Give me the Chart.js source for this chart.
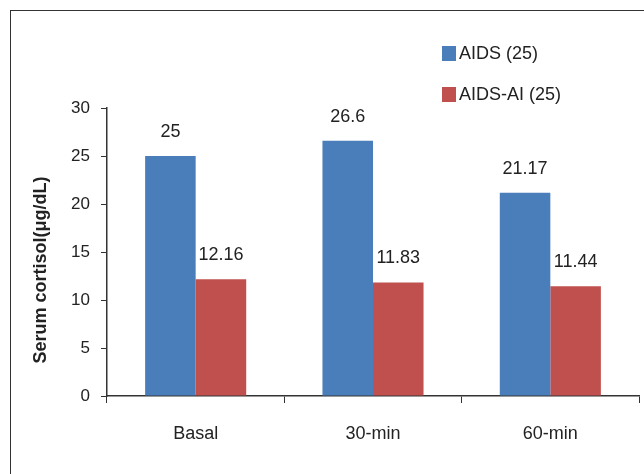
<!DOCTYPE html>
<html lang="en">

<head>
    <meta charset="UTF-8">
    <title>Serum cortisol</title>
    <script src="https://cdn.jsdelivr.net/npm/chart.js"></script>
    <style>
        body {
            margin: 0;
            padding: 0;
            background-color: #fff;
            font-family: "Liberation Sans", Arial, sans-serif;
        }

        .wrap {
            position: relative;
            width: 644px;
            height: 474px;
            overflow: hidden;
        }

        .frame {
            position: absolute;
            left: 10px;
            top: 10px;
            width: 700px;
            height: 500px;
            border-left: 1.5px solid #333;
            border-top: 1.5px solid #333;
        }

        .legend {
            position: absolute;
            left: 442px;
            top: 43px;
            font-size: 18px;
            color: #222;
        }

        .legend div {
            display: flex;
            align-items: center;
            height: 20px;
            margin-bottom: 21px;
        }

        .legend span.box {
            display: inline-block;
            width: 14px;
            height: 15px;
            margin-right: 3px;
        }

        canvas {
            position: absolute;
            left: 0;
            top: 0;
        }
    </style>
</head>

<body>
    <div class="wrap">
        <div class="frame"></div>
        <canvas id="cortisolChart" width="644" height="474"></canvas>
        <div class="legend" id="legend"></div>
    </div>

    <script>
        // chart data
        const categories = ['Basal', '30-min', '60-min'];
        const aidsValues = [25, 26.6, 21.17];
        const aidsAiValues = [12.16, 11.83, 11.44];
        const seriesNames = ['AIDS (25)', 'AIDS-AI (25)'];
        const yTitle = 'Serum cortisol(\u03bcg/dL)';

        const blue = '#4a7ebb';
        const red = '#c0504d';

        // value labels over the bars + rotated axis title
        const barLabels = {
            id: 'barLabels',
            afterDatasetsDraw(chart) {
                const ctx = chart.ctx;
                ctx.save();
                ctx.fillStyle = '#222';
                ctx.font = '18px "Liberation Sans", Arial, sans-serif';
                ctx.textAlign = 'center';
                ctx.textBaseline = 'middle';
                chart.data.datasets.forEach((ds, i) => {
                    chart.getDatasetMeta(i).data.forEach((bar, j) => {
                        ctx.fillText(String(ds.data[j]), bar.x, bar.y - 24);
                    });
                });

                ctx.translate(41, 270);
                ctx.rotate(-Math.PI / 2);
                ctx.font = 'bold 18px "Liberation Sans", Arial, sans-serif';
                ctx.fillText(yTitle, 0, 0);
                ctx.restore();
            }
        };

        var ctx = document.getElementById('cortisolChart').getContext('2d');
        var cortisolChart = new Chart(ctx, {
            type: 'bar',
            data: {
                labels: categories,
                datasets: [{
                    label: seriesNames[0],
                    data: aidsValues,
                    backgroundColor: blue
                }, {
                    label: seriesNames[1],
                    data: aidsAiValues,
                    backgroundColor: red
                }]
            },
            options: {
                responsive: false,
                animation: false,
                layout: {
                    padding: { top: 108, right: 5, left: 0, bottom: 0 }
                },
                datasets: {
                    bar: {
                        categoryPercentage: 0.57,
                        barPercentage: 1.0
                    }
                },
                plugins: {
                    legend: { display: false },
                    tooltip: { enabled: false }
                },
                scales: {
                    x: {
                        grid: {
                            offset: true,
                            drawOnChartArea: false,
                            tickLength: 7,
                            color: '#333'
                        },
                        border: { color: '#333', width: 1.5 },
                        ticks: {
                            color: '#222',
                            padding: 20,
                            font: { size: 18, family: '"Liberation Sans", Arial, sans-serif' }
                        },
                        afterFit: function (scale) {
                            scale.height = 78;
                        }
                    },
                    y: {
                        min: 0,
                        max: 30,
                        ticks: {
                            stepSize: 5,
                            color: '#222',
                            padding: 11,
                            font: { size: 17, family: '"Liberation Sans", Arial, sans-serif' }
                        },
                        grid: {
                            drawOnChartArea: false,
                            tickLength: 6,
                            color: '#333'
                        },
                        border: { color: '#333', width: 1.5 },
                        afterFit: function (scale) {
                            scale.width = 107;
                        }
                    }
                }
            },
            plugins: [barLabels]
        });

        // legend built from the datasets
        const legendEl = document.getElementById('legend');
        cortisolChart.data.datasets.forEach(ds => {
            const row = document.createElement('div');
            const box = document.createElement('span');
            box.className = 'box';
            box.style.background = ds.backgroundColor;
            row.appendChild(box);
            row.appendChild(document.createTextNode(ds.label));
            legendEl.appendChild(row);
        });
    </script>
</body>

</html>
